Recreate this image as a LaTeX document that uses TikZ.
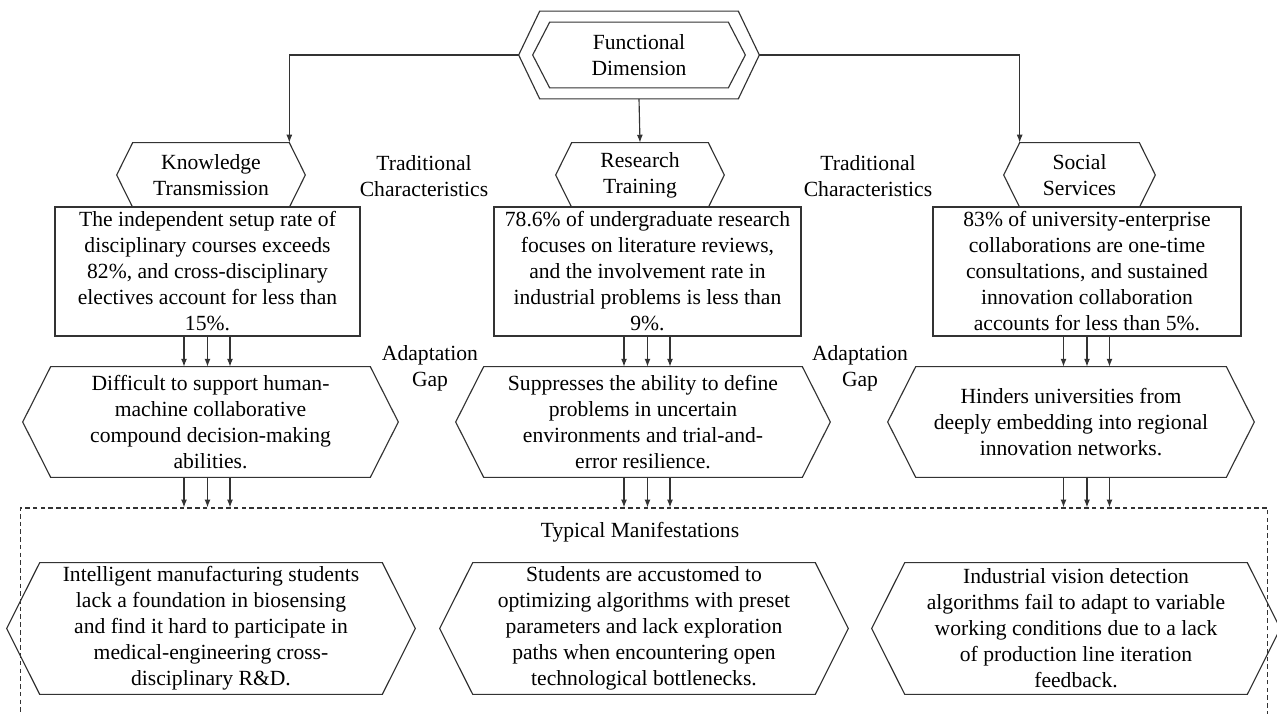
\documentclass[tikz,border=0pt]{standalone}
\usepackage{fontspec}
\setmainfont{Liberation Serif}
\newfontfamily\diagfont{Liberation Serif}
\usetikzlibrary{positioning,arrows.meta}

% hexagon outline round a plain node: #1 node name, #2 indent of the flat sides
\newcommand{\hexframe}[2]{%
  \draw[frame] ([xshift=#2]#1.north west) -- ([xshift=-#2]#1.north east) -- (#1.east)
    -- ([xshift=-#2]#1.south east) -- ([xshift=#2]#1.south west) -- (#1.west) -- cycle;}

\begin{document}
\begin{tikzpicture}[
  x=0.02cm, y=-0.02cm,
  >={Latex[length=4.5pt,width=3.4pt]},
  frame/.style={draw=black!80, line width=0.65pt},
  txt/.style={align=center, inner sep=0pt, font=\diagfont\fontsize{12.3}{14.8}\selectfont},
  factbox/.style={txt, frame, minimum height=2.58cm},
  hexbox/.style={txt, minimum height=#1},
  link/.style={->, line width=0.65pt, draw=black!80}
]
\clip (0,0) rectangle (1277,713);

% top
\node[hexbox=1.74cm, minimum width=4.8cm] (fd) at (639,55) {};
\node[hexbox=1.3cm, minimum width=4.24cm] (fdin) at (639,55) {Functional\\Dimension};
\hexframe{fd}{0.42cm}
\hexframe{fdin}{0.34cm}

% functions
\node[hexbox=1.28cm, minimum width=3.76cm] (kt) at (211,175) {Knowledge\\Transmission};
\node[hexbox=1.28cm, minimum width=3.36cm] (rt) at (640,175) {Research\\Training};
\node[hexbox=1.28cm, minimum width=3.02cm] (ss) at (1079.5,175) {Social\\Services};
\hexframe{kt}{0.32cm}
\hexframe{rt}{0.32cm}
\hexframe{ss}{0.32cm}

\node[txt] (trad1) at (424,176) {Traditional\\Characteristics};
\node[txt] (trad2) at (868,176) {Traditional\\Characteristics};

\node[factbox, minimum width=6.1cm] (kbox) at (207.5,271.5) {The independent setup rate of\\disciplinary courses exceeds\\82\%, and cross-disciplinary\\electives account for less than\\15\%.};
\node[factbox, minimum width=6.14cm] (rbox) at (647.5,271.5) {78.6\% of undergraduate research\\focuses on literature reviews,\\and the involvement rate in\\industrial problems is less than\\9\%.};
\node[factbox, minimum width=6.16cm] (sbox) at (1087,271.5) {83\% of university-enterprise\\collaborations are one-time\\consultations, and sustained\\innovation collaboration\\accounts for less than 5\%.};

% gaps
\node[txt] (gap1) at (430,368) {Adaptation\\Gap};
\node[txt] (gap2) at (860,368) {Adaptation\\Gap};

\node[hexbox=2.2cm, minimum width=7.5cm] (kgap) at (210.5,422) {Difficult to support human-\\machine collaborative\\compound decision-making\\abilities.};
\node[hexbox=2.2cm, minimum width=7.48cm] (rgap) at (643,422) {Suppresses the ability to define\\problems in uncertain\\environments and trial-and-\\error resilience.};
\node[hexbox=2.2cm, minimum width=7.32cm] (sgap) at (1071,422) {Hinders universities from\\deeply embedding into regional\\innovation networks.};
\hexframe{kgap}{0.56cm}
\hexframe{rgap}{0.56cm}
\hexframe{sgap}{0.56cm}

% manifestations
\node[draw=black!80, line width=0.65pt, dash pattern=on 2.6pt off 1.8pt,
  minimum width=24.96cm, minimum height=4.24cm, inner sep=0pt] (manif) at (644,614) {};
\node[txt] (manlabel) at (640,532) {Typical Manifestations};

\node[hexbox=2.62cm, minimum width=8.16cm] (kman) at (211,628.5) {Intelligent manufacturing students\\lack a foundation in biosensing\\and find it hard to participate in\\medical-engineering cross-\\disciplinary R\&D.};
\node[hexbox=2.62cm, minimum width=8.16cm] (rman) at (644,628.5) {Students are accustomed to\\optimizing algorithms with preset\\parameters and lack exploration\\paths when encountering open\\technological bottlenecks.};
\node[hexbox=2.62cm, minimum width=8.16cm] (sman) at (1076,628.5) {Industrial vision detection\\algorithms fail to adapt to variable\\working conditions due to a lack\\of production line iteration\\feedback.};
\hexframe{kman}{0.66cm}
\hexframe{rman}{0.66cm}
\hexframe{sman}{0.66cm}

% connectors
\draw[link] (fd.west) -| ([xshift=-0.32cm]kt.north east);
\draw[link] (fd.south) -- (rt.north);
\draw[link] (fd.east) -| ([xshift=0.32cm]ss.north west);

\foreach \src/\gap in {kbox/kgap, rbox/rgap, sbox/sgap}{
  \foreach \dx in {-0.47cm,0cm,0.45cm}{
    \draw[link] ([xshift=\dx]\src.south) -- ([xshift=\dx]\src.south |- \gap.north);
    \draw[link] ([xshift=\dx]\src.south |- \gap.south) -- ([xshift=\dx]\src.south |- manif.north);
  }
}
\end{tikzpicture}
\end{document}
